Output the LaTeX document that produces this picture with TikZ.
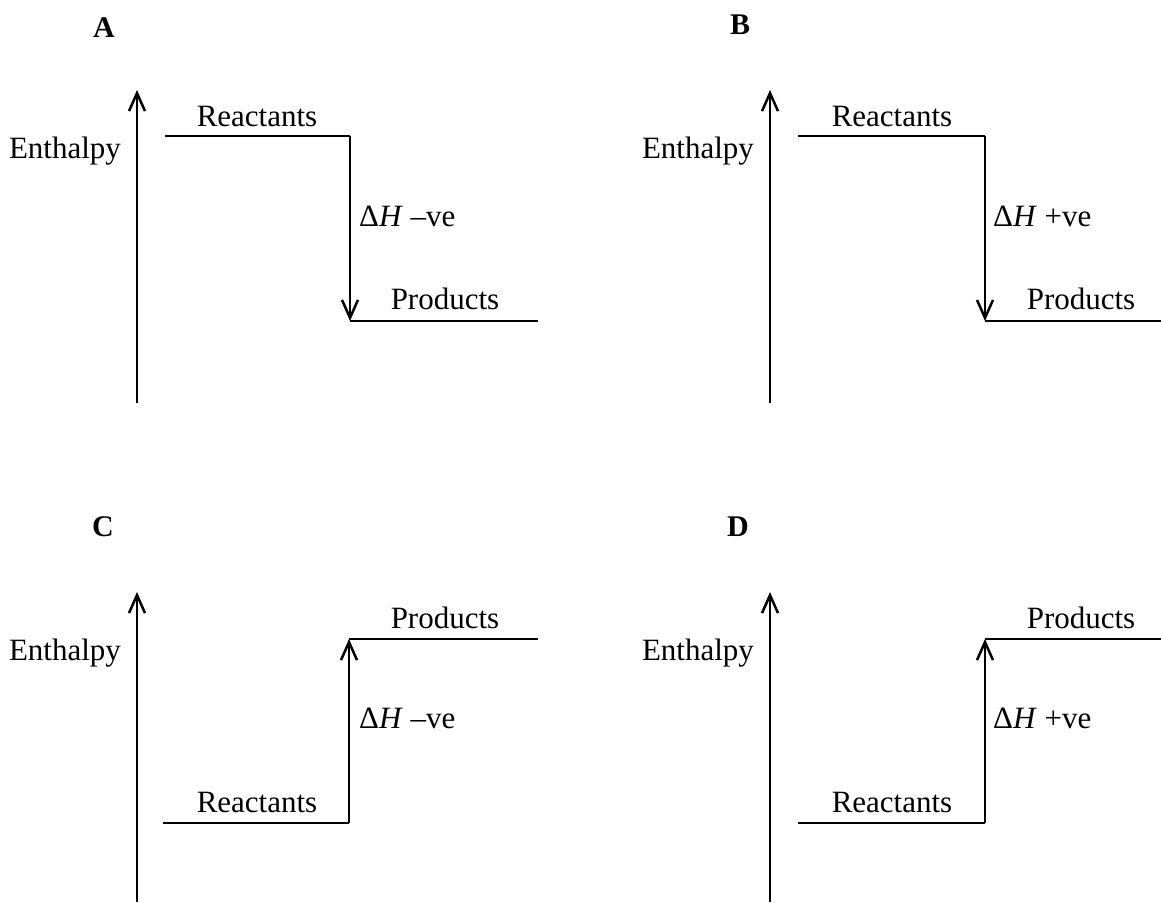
\documentclass[tikz,border=0pt]{standalone}
\usepackage{fontspec}
\setmainfont{Liberation Serif}
\usetikzlibrary{arrows.meta}
\begin{document}
\begin{tikzpicture}[x=1pt,y=-1pt,
  line/.style={line width=2.7pt},
  tip/.style={-{Straight Barb[length=18pt,width=16pt,line width=2.5pt]}},
  txt/.style={inner sep=0pt,anchor=base,font=\fontsize{31}{36}\selectfont},
  dh/.style={inner sep=0pt,anchor=base west,font=\fontsize{31}{36}\selectfont},
  tag/.style={inner sep=0pt,anchor=base,font=\fontsize{30}{34}\selectfont\bfseries}]
\useasboundingbox (0,0) rectangle (1161,902);

% ---------- A: exothermic drop, labelled -ve ----------
\begin{scope}
  \node[tag] (tagA) at (104,37) {A};
  \coordinate (axA0) at (137,403); \coordinate (axA1) at (137,90);
  \draw[line,tip] (axA0) -- (axA1);
  \node[txt] (enA) at (65,158) {Enthalpy};
  \coordinate (rA0) at (165,136); \coordinate (rA1) at (350,136);
  \coordinate (pA0) at (350,321); \coordinate (pA1) at (538,321);
  \draw[line] (rA0) -- (rA1);
  \draw[line] (pA0) -- (pA1);
  \draw[line,tip] (rA1) -- (pA0);
  \node[txt] (reA) at (257,126) {Reactants};
  \node[txt] (prA) at (445,309) {Products};
  \node[dh] (dhA) at (359,226) {Δ\textit{H} –ve};
\end{scope}

% ---------- B: exothermic drop, labelled +ve ----------
\begin{scope}[xshift=633pt]
  \node[tag] (tagB) at (107,34) {B};
  \coordinate (axB0) at (137,403); \coordinate (axB1) at (137,90);
  \draw[line,tip] (axB0) -- (axB1);
  \node[txt] (enB) at (65,158) {Enthalpy};
  \coordinate (rB0) at (165,136); \coordinate (rB1) at (352,136);
  \coordinate (pB0) at (352,321); \coordinate (pB1) at (528,321);
  \draw[line] (rB0) -- (rB1);
  \draw[line] (pB0) -- (pB1);
  \draw[line,tip] (rB1) -- (pB0);
  \node[txt] (reB) at (259,126) {Reactants};
  \node[txt] (prB) at (448,309) {Products};
  \node[dh] (dhB) at (360,226) {Δ\textit{H} +ve};
\end{scope}

% ---------- C: endothermic rise, labelled -ve ----------
\begin{scope}
  \node[tag] (tagC) at (103,536) {C};
  \coordinate (axC0) at (137,902); \coordinate (axC1) at (137,592);
  \draw[line,tip] (axC0) -- (axC1);
  \node[txt] (enC) at (65,660) {Enthalpy};
  \coordinate (rC0) at (163,823); \coordinate (rC1) at (349,823);
  \coordinate (pC0) at (349,639); \coordinate (pC1) at (538,639);
  \draw[line] (rC0) -- (rC1);
  \draw[line] (pC0) -- (pC1);
  \draw[line,tip] (rC1) -- (pC0);
  \node[txt] (reC) at (257,812) {Reactants};
  \node[txt] (prC) at (445,628) {Products};
  \node[dh] (dhC) at (359,728) {Δ\textit{H} –ve};
\end{scope}

% ---------- D: endothermic rise, labelled +ve ----------
\begin{scope}[xshift=633pt]
  \node[tag] (tagD) at (105,536) {D};
  \coordinate (axD0) at (137,902); \coordinate (axD1) at (137,592);
  \draw[line,tip] (axD0) -- (axD1);
  \node[txt] (enD) at (65,660) {Enthalpy};
  \coordinate (rD0) at (165,823); \coordinate (rD1) at (352,823);
  \coordinate (pD0) at (352,639); \coordinate (pD1) at (528,639);
  \draw[line] (rD0) -- (rD1);
  \draw[line] (pD0) -- (pD1);
  \draw[line,tip] (rD1) -- (pD0);
  \node[txt] (reD) at (259,812) {Reactants};
  \node[txt] (prD) at (448,628) {Products};
  \node[dh] (dhD) at (360,728) {Δ\textit{H} +ve};
\end{scope}
\end{tikzpicture}
\end{document}
